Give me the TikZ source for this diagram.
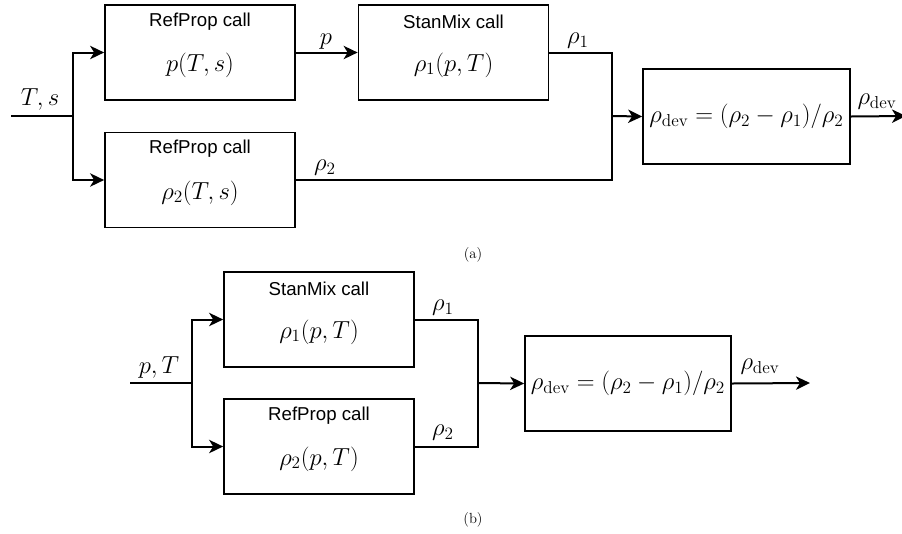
\documentclass[tikz,border=0pt]{standalone}
\usepackage{fix-cm}
\usepackage{fontspec}
\setsansfont{Liberation Sans}
\usetikzlibrary{arrows.meta}
\begin{document}
\begin{tikzpicture}[x=0.75pt,y=-0.75pt,
  box/.style={draw, line width=1.3pt, minimum width=142.5pt, minimum height=71.25pt, inner sep=0pt},
  devbox/.style={draw, line width=1.3pt, minimum width=155pt, minimum height=71.25pt, inner sep=0pt},
  ttl/.style={inner sep=0pt, font=\sffamily\fontsize{14}{16}\selectfont},
  fml/.style={inner sep=0pt, font=\fontsize{18.5}{21}\selectfont},
  lbl/.style={inner sep=0pt, font=\fontsize{18.5}{21}\selectfont},
  subcap/.style={inner sep=0pt, font=\fontsize{11}{13}\selectfont},
  wire/.style={line width=1.5pt},
  arr/.style={line width=1.5pt, -{Stealth[length=10.5pt,width=10pt,inset=3pt]}}]
\useasboundingbox (0,0) rectangle (902,533);

% ---------- (a) ----------
\node[box] (a1) at (200,52.5) {};
\node[box] (a2) at (453.5,52.5) {};
\node[box] (a3) at (200,180) {};
\node[devbox, minimum width=155.25pt] (a4) at (746.5,116.5) {};

\node[ttl] (a1t) at (200,22) {RefProp call};
\node[fml] (a1f) at (200,65) {$p(T,s)$};
\node[ttl] (a2t) at (453.5,22) {StanMix call};
\node[fml] (a2f) at (453.5,65) {$\rho_1(p,T)$};
\node[ttl] (a3t) at (200,149) {RefProp call};
\node[fml] (a3f) at (200,193) {$\rho_2(T,s)$};
\node[fml] (a4f) at (746.5,116.5) {$\rho_{\mathrm{dev}}=(\rho_2-\rho_1)/\rho_2$};

\coordinate (ain) at (11,116);
\coordinate (asp) at (73,116);
\coordinate (aj) at (612,116);
\coordinate (aout) at (906,116);

\draw[wire] (ain) -- (asp);
\draw[arr] (asp) |- (a1.west);
\draw[arr] (asp) |- (a3.west);
\draw[arr] (a1.east) -- (a2.west);
\draw[wire] (a2.east) -| (aj);
\draw[wire] (a3.east) -| (aj);
\draw[arr] (aj) -- (a4.west);
\draw[arr] (a4.east) -- (aout);

\node[lbl] (aTs) at (40,99) {$T,s$};
\node[lbl] (ap) at (326,42) {$p$};
\node[lbl] (ar1) at (578,41) {$\rho_1$};
\node[lbl] (ar2) at (325,168) {$\rho_2$};
\node[lbl] (ard) at (877,102) {$\rho_{\mathrm{dev}}$};
\node[subcap] (acap) at (473,255) {(a)};

% ---------- (b) ----------
\node[box] (b1) at (319,319.5) {};
\node[box] (b2) at (319,446.5) {};
\node[devbox, minimum width=154.5pt] (b3) at (628,383.5) {};

\node[ttl] (b1t) at (319,289) {StanMix call};
\node[fml] (b1f) at (319,332) {$\rho_1(p,T)$};
\node[ttl] (b2t) at (319,416) {RefProp call};
\node[fml] (b2f) at (319,459) {$\rho_2(p,T)$};
\node[fml] (b3f) at (628,383.5) {$\rho_{\mathrm{dev}}=(\rho_2-\rho_1)/\rho_2$};

\coordinate (bin) at (130,383);
\coordinate (bsp) at (192,383);
\coordinate (bj) at (478,383);
\coordinate (bout) at (810,383);

\draw[wire] (bin) -- (bsp);
\draw[arr] (bsp) |- (b1.west);
\draw[arr] (bsp) |- (b2.west);
\draw[wire] (b1.east) -| (bj);
\draw[wire] (b2.east) -| (bj);
\draw[arr] (bj) -- (b3.west);
\draw[arr] (b3.east) -- (bout);

\node[lbl] (bpT) at (159,367) {$p,T$};
\node[lbl] (br1) at (443,308) {$\rho_1$};
\node[lbl] (br2) at (443,433) {$\rho_2$};
\node[lbl] (brd) at (760,367) {$\rho_{\mathrm{dev}}$};
\node[subcap] (bcap) at (473,520) {(b)};
\end{tikzpicture}
\end{document}
